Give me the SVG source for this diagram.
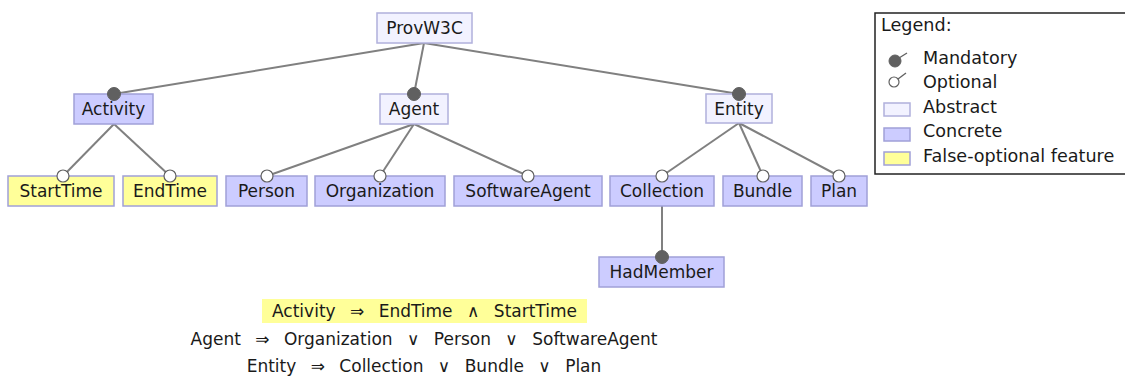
<svg xmlns="http://www.w3.org/2000/svg" width="1125" height="376" viewBox="0 0 1125 376">
  <style>
    text { font-family: "DejaVu Sans", Verdana, sans-serif; font-size: 17px; fill: #1a1a1a; }
    .node text { text-anchor: middle; }
    .abstract { fill: #f2f2ff; stroke: #b0b0dc; stroke-width: 1.5; }
    .concrete { fill: #ccccff; stroke: #a0a0d8; stroke-width: 1.5; }
    .falseopt { fill: #ffff99; stroke: #a0a0d8; stroke-width: 1.5; }
    .edge { stroke: #808080; stroke-width: 2; fill: none; }
    .mand { fill: #606060; stroke: #606060; stroke-width: 1; }
    .opt { fill: #ffffff; stroke: #606060; stroke-width: 1.2; }
    .constraint { text-anchor: middle; word-spacing: 1.8px; }
    #legend text { font-size: 17.6px; }
  </style>
  <rect width="1125" height="376" fill="#ffffff"/>

  <!-- connectors: parent bottom-centre to child's decorator -->
  <g id="connectors">
    <line class="edge" x1="424" y1="43" x2="114" y2="94"/>
    <line class="edge" x1="424" y1="43" x2="414" y2="94"/>
    <line class="edge" x1="424" y1="43" x2="739" y2="94"/>
    <line class="edge" x1="114" y1="124" x2="63" y2="176"/>
    <line class="edge" x1="114" y1="124" x2="170" y2="176"/>
    <line class="edge" x1="414" y1="124" x2="267" y2="176"/>
    <line class="edge" x1="414" y1="124" x2="380" y2="176"/>
    <line class="edge" x1="414" y1="124" x2="528" y2="176"/>
    <line class="edge" x1="739" y1="123" x2="662" y2="176"/>
    <line class="edge" x1="739" y1="123" x2="763" y2="176"/>
    <line class="edge" x1="739" y1="123" x2="839" y2="176"/>
    <line class="edge" x1="662" y1="206" x2="662" y2="257"/>
  </g>

  <!-- features -->
  <g id="node-ProvW3C" class="node">
    <rect class="abstract" x="377" y="13" width="95" height="30"/>
    <text x="424.5" y="34">ProvW3C</text>
  </g>
  <g id="node-Activity" class="node">
    <rect class="concrete" x="74" y="94" width="79" height="30"/>
    <text x="113.5" y="115">Activity</text>
  </g>
  <g id="node-Agent" class="node">
    <rect class="abstract" x="380" y="94" width="68" height="30"/>
    <text x="414" y="115">Agent</text>
  </g>
  <g id="node-Entity" class="node">
    <rect class="abstract" x="706" y="94" width="66" height="29"/>
    <text x="739" y="115">Entity</text>
  </g>
  <g id="node-StartTime" class="node">
    <rect class="falseopt" x="8" y="176" width="106" height="30"/>
    <text x="61" y="197">StartTime</text>
  </g>
  <g id="node-EndTime" class="node">
    <rect class="falseopt" x="123" y="176" width="94" height="30"/>
    <text x="170" y="197">EndTime</text>
  </g>
  <g id="node-Person" class="node">
    <rect class="concrete" x="226" y="176" width="81" height="30"/>
    <text x="266.5" y="197">Person</text>
  </g>
  <g id="node-Organization" class="node">
    <rect class="concrete" x="315" y="176" width="130" height="30"/>
    <text x="380" y="197">Organization</text>
  </g>
  <g id="node-SoftwareAgent" class="node">
    <rect class="concrete" x="454" y="176" width="148" height="30"/>
    <text x="528" y="197">SoftwareAgent</text>
  </g>
  <g id="node-Collection" class="node">
    <rect class="concrete" x="610" y="176" width="104" height="30"/>
    <text x="662" y="197">Collection</text>
  </g>
  <g id="node-Bundle" class="node">
    <rect class="concrete" x="723" y="176" width="79" height="30"/>
    <text x="762.5" y="197">Bundle</text>
  </g>
  <g id="node-Plan" class="node">
    <rect class="concrete" x="811" y="176" width="56" height="30"/>
    <text x="839" y="197">Plan</text>
  </g>
  <g id="node-HadMember" class="node">
    <rect class="concrete" x="599" y="257" width="125" height="30"/>
    <text x="661.5" y="278">HadMember</text>
  </g>

  <!-- group-type decorators on child features -->
  <g id="decorators">
    <circle class="mand" cx="114" cy="94" r="6.5"/>
    <circle class="mand" cx="414" cy="94" r="6.5"/>
    <circle class="mand" cx="739" cy="94" r="6.5"/>
    <circle class="opt" cx="63" cy="176" r="6"/>
    <circle class="opt" cx="170" cy="176" r="6"/>
    <circle class="opt" cx="267" cy="176" r="6"/>
    <circle class="opt" cx="380" cy="176" r="6"/>
    <circle class="opt" cx="528" cy="176" r="6"/>
    <circle class="opt" cx="662" cy="176" r="6"/>
    <circle class="opt" cx="763" cy="176" r="6"/>
    <circle class="opt" cx="839" cy="176" r="6"/>
    <circle class="mand" cx="662" cy="257" r="6.5"/>
  </g>

  <!-- cross-tree constraints -->
  <g id="constraints">
    <rect x="262" y="299" width="325" height="24" fill="#ffff99"/>
    <text class="constraint" x="424.5" y="317" xml:space="preserve">Activity  ⇒  EndTime  ∧  StartTime</text>
    <text class="constraint" x="424" y="345" xml:space="preserve">Agent  ⇒  Organization  ∨  Person  ∨  SoftwareAgent</text>
    <text class="constraint" x="424" y="372" xml:space="preserve">Entity  ⇒  Collection  ∨  Bundle  ∨  Plan</text>
  </g>

  <!-- legend -->
  <g id="legend">
    <rect x="875" y="13" width="270" height="161" fill="#ffffff" stroke="#222222" stroke-width="1.5"/>
    <text x="881" y="31">Legend:</text>
    <line x1="899" y1="58" x2="907" y2="53" stroke="#606060" stroke-width="1.3"/>
    <circle class="mand" cx="895" cy="61" r="6"/>
    <text x="923" y="64">Mandatory</text>
    <line x1="898" y1="79" x2="906" y2="73" stroke="#606060" stroke-width="1.3"/>
    <circle class="opt" cx="894" cy="82" r="5"/>
    <text x="923" y="88">Optional</text>
    <rect class="abstract" x="884" y="103" width="26" height="13"/>
    <text x="923" y="113">Abstract</text>
    <rect class="concrete" x="884" y="128" width="26" height="13"/>
    <text x="923" y="137">Concrete</text>
    <rect class="falseopt" x="884" y="152" width="26" height="13"/>
    <text x="923" y="162">False-optional feature</text>
  </g>
</svg>
